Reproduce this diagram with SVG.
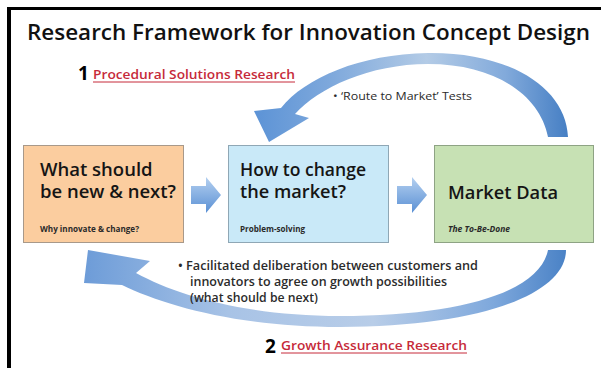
<svg xmlns="http://www.w3.org/2000/svg" width="605" height="368" viewBox="0 0 605 368">
  <defs>
    <linearGradient id="blockBlue" x1="0" y1="0" x2="0" y2="1">
      <stop offset="0" stop-color="#b4d0f0"/>
      <stop offset="1" stop-color="#5a90d4"/>
    </linearGradient>
    <linearGradient id="arcTop" x1="0" y1="0" x2="1" y2="0">
      <stop offset="0" stop-color="#5c93d6"/>
      <stop offset="0.25" stop-color="#7fa9dc"/>
      <stop offset="0.55" stop-color="#b3cbe6"/>
      <stop offset="0.8" stop-color="#82aadb"/>
      <stop offset="1" stop-color="#467fc4"/>
    </linearGradient>
    <linearGradient id="arcBottom" x1="0" y1="0" x2="1" y2="0">
      <stop offset="0" stop-color="#6d9cd8"/>
      <stop offset="0.3" stop-color="#a8c3e6"/>
      <stop offset="0.6" stop-color="#b8cde8"/>
      <stop offset="0.85" stop-color="#7ea8dc"/>
      <stop offset="1" stop-color="#4a82c6"/>
    </linearGradient>
  </defs>
  <style>
    .title { font-family: "Open Sans", "Liberation Sans", sans-serif; font-weight: 600; font-size: 21px; fill: #111; }
    .num { font-family: "Open Sans", "Liberation Sans", sans-serif; font-weight: 700; font-size: 19px; fill: #000; }
    .link { font-family: "Open Sans", "Liberation Sans", sans-serif; font-weight: 600; font-size: 13px; fill: #c62a3a; }
    .note { font-family: "Open Sans", "Liberation Sans", sans-serif; font-weight: 600; font-size: 12px; fill: #2b2b2b; }
    .note-light { font-family: "Open Sans", "Liberation Sans", sans-serif; font-weight: 400; font-size: 11.5px; fill: #2b2b2b; }
    .head { font-family: "Open Sans", "Liberation Sans", sans-serif; font-weight: 600; font-size: 18.5px; fill: #151515; }
    .sub { font-family: "Open Sans", "Liberation Sans", sans-serif; font-weight: 700; font-size: 8.5px; fill: #2a2a2a; }
    .box { stroke-width: 1; }
  </style>

  <rect width="605" height="368" fill="#ffffff"/>
  <!-- frame edges -->
  <rect x="7" y="7" width="594" height="3" fill="#000"/>
  <rect x="7" y="7" width="4" height="361" fill="#000"/>

  <text class="title" x="27" y="40" textLength="563" lengthAdjust="spacingAndGlyphs">Research Framework for Innovation Concept Design</text>

  <!-- connectors -->
  <g id="connectors">
    <path d="M 568 137 C 566 88, 510 52, 428 53 C 360 54, 305 78, 281 108 L 254 111 L 269 142 L 309 118 L 295 114 C 318 88, 370 64, 428 64 C 495 64, 540 95, 548 137 Z" fill="url(#arcTop)"/>
    <path d="M 548 250 L 566 250 C 566 294, 480 327, 340 327 C 240 327, 165 306, 122 285 L 84 283 L 88 250 L 150 261 L 136 273 C 180 297, 250 316, 340 316 C 460 316, 540 292, 548 250 Z" fill="url(#arcBottom)"/>
    <path d="M 191 186 H 206 V 177 L 221 195 L 206 213 V 204 H 191 Z" fill="url(#blockBlue)"/>
    <path d="M 397 186 H 412 V 177 L 427 195 L 412 213 V 204 H 397 Z" fill="url(#blockBlue)"/>
  </g>

  <g id="label-procedural">
    <text class="num" x="78" y="80">1</text>
    <text class="link" x="93" y="79" textLength="202" lengthAdjust="spacingAndGlyphs">Procedural Solutions Research</text>
    <line x1="93" y1="82" x2="295" y2="82" stroke="#c62a3a" stroke-width="1"/>
  </g>

  <g id="note-route">
    <text class="note-light" x="333" y="100" textLength="139" lengthAdjust="spacingAndGlyphs">• ‘Route to Market’ Tests</text>
  </g>

  <g id="node-new">
    <rect class="box" x="23.5" y="145.5" width="160" height="97" fill="#fbcd9f" stroke="#a8998a"/>
    <text class="head" x="40" y="176">What should</text>
    <text class="head" x="40" y="198" textLength="136" lengthAdjust="spacingAndGlyphs">be new &amp; next?</text>
    <text class="sub" x="40" y="232" textLength="99" lengthAdjust="spacingAndGlyphs">Why innovate &amp; change?</text>
  </g>

  <g id="node-change">
    <rect class="box" x="228.5" y="145.5" width="160" height="97" fill="#c9e9f8" stroke="#8fa7b5"/>
    <text class="head" x="240" y="176" textLength="126" lengthAdjust="spacingAndGlyphs">How to change</text>
    <text class="head" x="240" y="198" textLength="106" lengthAdjust="spacingAndGlyphs">the market?</text>
    <text class="sub" x="240" y="232" textLength="65" lengthAdjust="spacingAndGlyphs">Problem-solving</text>
  </g>

  <g id="node-data">
    <rect class="box" x="434.5" y="145.5" width="159" height="97" fill="#c7e1b4" stroke="#8ea384"/>
    <text class="head" x="448" y="199" textLength="110" lengthAdjust="spacingAndGlyphs">Market Data</text>
    <text class="sub" x="448" y="232" font-style="italic" textLength="62" lengthAdjust="spacingAndGlyphs">The To-Be-Done</text>
  </g>

  <g id="note-deliberation">
    <text class="note" x="178" y="270" textLength="300" lengthAdjust="spacingAndGlyphs">• Facilitated deliberation between customers and</text>
    <text class="note" x="190" y="286" textLength="257" lengthAdjust="spacingAndGlyphs">innovators to agree on growth possibilities</text>
    <text class="note" x="190" y="302" textLength="128" lengthAdjust="spacingAndGlyphs">(what should be next)</text>
  </g>

  <g id="label-growth">
    <text class="num" x="265" y="353">2</text>
    <text class="link" x="281" y="350" textLength="186" lengthAdjust="spacingAndGlyphs">Growth Assurance Research</text>
    <line x1="281" y1="353" x2="467" y2="353" stroke="#c62a3a" stroke-width="1"/>
  </g>
</svg>
